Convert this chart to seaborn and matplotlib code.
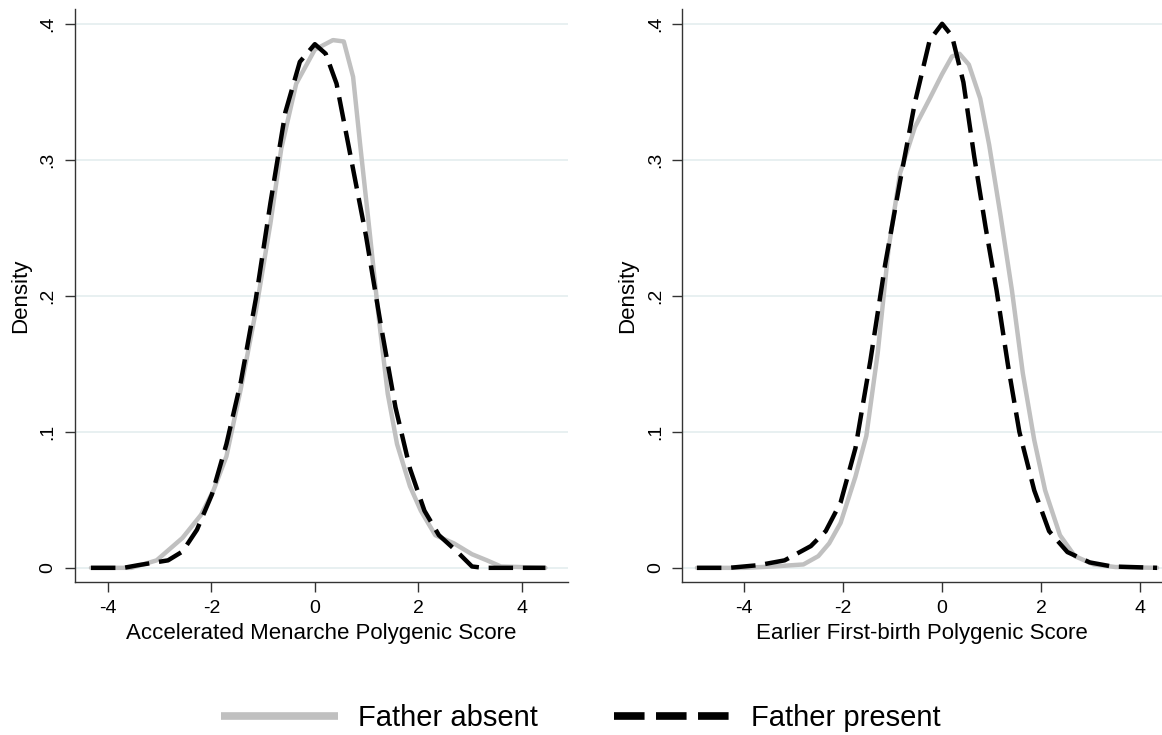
import numpy as np
import pandas as pd
import matplotlib
matplotlib.use("Agg")
import matplotlib.pyplot as plt
import seaborn as sns
from matplotlib.lines import Line2D

# --------------------------------------------------
# Data
# --------------------------------------------------
men_absent_x = [-4.33, -3.55, -3.06, -2.56, -2.2, -1.96, -1.71, -1.43, -1.14, -0.86, -0.65,
                -0.36, 0.0, 0.35, 0.56, 0.74, 0.88, 1.06, 1.23, 1.41, 1.59, 1.84, 2.05,
                2.33, 2.69, 3.04, 3.33, 3.6, 4.46]
men_absent_y = [0.0, 0.0, 0.0055, 0.022, 0.039, 0.057, 0.082, 0.132, 0.189, 0.253, 0.308,
                0.356, 0.381, 0.388, 0.387, 0.361, 0.31, 0.247, 0.186, 0.128, 0.091, 0.060, 0.042,
                0.024, 0.018, 0.010, 0.0055, 0.001, 0.0]

men_present_x = [-4.33, -3.7, -3.41, -2.84, -2.56, -2.28, -1.99, -1.71, -1.43, -1.14, -0.86,
                 -0.57, -0.29, 0.0, 0.21, 0.42, 0.7, 0.99, 1.27, 1.56, 1.84, 2.12, 2.4,
                 2.76, 3.04, 3.26, 4.46]
men_present_y = [0.0, 0.0, 0.002, 0.0055, 0.012, 0.028, 0.054, 0.091, 0.137, 0.198, 0.268,
                 0.335, 0.372, 0.385, 0.378, 0.356, 0.301, 0.244, 0.18, 0.118, 0.073, 0.042, 0.024,
                 0.0116, 0.001, 0.0, 0.0]

fb_absent_x = [-4.95, -4.0, -3.41, -2.8, -2.5, -2.28, -2.05, -1.75, -1.53, -1.3, -1.08,
               -0.85, -0.55, -0.25, 0.0, 0.2, 0.35, 0.54, 0.77, 0.95, 1.18, 1.41, 1.63,
               1.86, 2.08, 2.38, 2.68, 3.06, 3.5, 4.34]
fb_absent_y = [0.0, 0.0, 0.001, 0.0025, 0.0086, 0.018, 0.033, 0.067, 0.097, 0.158, 0.235,
               0.29, 0.324, 0.345, 0.363, 0.376, 0.378, 0.370, 0.345, 0.311, 0.259, 0.204, 0.143,
               0.094, 0.057, 0.024, 0.0086, 0.0025, 0.0006, 0.0]

fb_present_x = [-4.95, -4.3, -3.7, -3.18, -2.65, -2.35, -2.05, -1.75, -1.45, -1.15, -0.85,
                -0.55, -0.25, 0.0, 0.2, 0.43, 0.65, 0.88, 1.1, 1.33, 1.56, 1.86, 2.16,
                2.53, 2.98, 3.43, 4.34]
fb_present_y = [0.0, 0.0, 0.002, 0.0055, 0.016, 0.027, 0.048, 0.088, 0.152, 0.223, 0.284,
                0.342, 0.388, 0.400, 0.391, 0.357, 0.302, 0.25, 0.204, 0.149, 0.10, 0.057, 0.027,
                0.0116, 0.004, 0.001, 0.0]

groups = ["Father absent", "Father present"]
colors = {"Father absent": "#c0c0c0", "Father present": "#000000"}


def long_frame(absent_x, absent_y, present_x, present_y):
    a = pd.DataFrame({"score": absent_x, "density": absent_y, "group": groups[0]})
    p = pd.DataFrame({"score": present_x, "density": present_y, "group": groups[1]})
    return pd.concat([a, p], ignore_index=True)


panels = [
    (long_frame(men_absent_x, men_absent_y, men_present_x, men_present_y),
     "Accelerated Menarche Polygenic Score", (-4.64, 4.89)),
    (long_frame(fb_absent_x, fb_absent_y, fb_present_x, fb_present_y),
     "Earlier First-birth Polygenic Score", (-5.25, 4.44)),
]

# --------------------------------------------------
# Figure
# --------------------------------------------------
sns.set_style("white")
plt.rcParams["font.family"] = ["Liberation Sans", "DejaVu Sans"]
plt.rcParams["text.color"] = "black"
plt.rcParams["axes.labelcolor"] = "black"
plt.rcParams["xtick.color"] = "black"
plt.rcParams["ytick.color"] = "black"

fig = plt.figure(figsize=(11.62, 7.35), dpi=100)
ax_pos = [
    [0.0645, 0.208, 0.424, 0.780],
    [0.587, 0.208, 0.413, 0.780],
]

for (df, xlabel, xlim), pos in zip(panels, ax_pos):
    ax = fig.add_axes(pos)

    for y in [0, 0.1, 0.2, 0.3, 0.4]:
        ax.axhline(y, color="#e6eff0", lw=1.3, zorder=0)

    sns.lineplot(
        data=df, x="score", y="density",
        hue="group", style="group",
        palette=colors,
        dashes={"Father absent": "", "Father present": (5.5, 2.2)},
        linewidth=3.2, sort=False, legend=False, ax=ax
    )

    ax.set_xlim(*xlim)
    ax.set_ylim(-0.0105, 0.411)
    ax.set_xticks([-4, -2, 0, 2, 4])
    ax.set_xticklabels(["-4", "-2", "0", "2", "4"], fontsize=14)
    ax.set_yticks([0, 0.1, 0.2, 0.3, 0.4])
    ax.set_yticklabels(["0", ".1", ".2", ".3", ".4"], fontsize=14,
                       rotation=90, va="center")
    ax.tick_params(axis="both", direction="out", length=7.2, width=1,
                   color="#333333", left=True, bottom=True, pad=6)
    ax.set_xlabel(xlabel, fontsize=16, labelpad=4)
    ax.set_ylabel("Density", fontsize=16, labelpad=6)

    for side in ["top", "right"]:
        ax.spines[side].set_visible(False)
    for side in ["left", "bottom"]:
        ax.spines[side].set_color("#333333")
        ax.spines[side].set_linewidth(1.0)

handles = [
    Line2D([], [], color=colors["Father absent"], lw=5.5, solid_capstyle="butt"),
    Line2D([], [], color=colors["Father present"], lw=5.5, dashes=(4.0, 1.5),
           dash_capstyle="butt"),
]
fig.legend(handles, groups, loc="lower center", bbox_to_anchor=(0.5, -0.032),
           ncol=2, frameon=False, fontsize=21, handlelength=4.0,
           handletextpad=0.7, columnspacing=2.6)

fig.savefig("out.png", dpi=100)
